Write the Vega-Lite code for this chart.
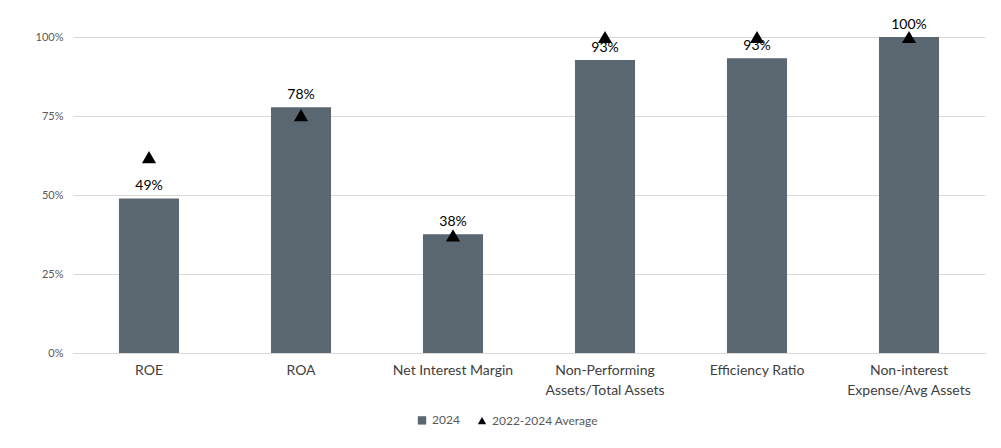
{
  "$schema": "https://vega.github.io/schema/vega-lite/v6.json",
  "autosize": {"type": "none"},
  "width": 912,
  "height": 316,
  "padding": {"left": 73, "top": 37, "right": 16, "bottom": 95},
  "background": "white",
  "config": {
    "font": "Lato",
    "view": {"stroke": null}
  },
  "data": {
    "values": [
      {"metric": "ROE", "series": "2024", "value": 0.489},
      {"metric": "ROA", "series": "2024", "value": 0.778},
      {"metric": "Net Interest Margin", "series": "2024", "value": 0.376},
      {"metric": "Non-Performing Assets/Total Assets", "series": "2024", "value": 0.927},
      {"metric": "Efficiency Ratio", "series": "2024", "value": 0.933},
      {"metric": "Non-interest Expense/Avg Assets", "series": "2024", "value": 1.0},
      {"metric": "ROE", "series": "2022-2024 Average", "value": 0.62},
      {"metric": "ROA", "series": "2022-2024 Average", "value": 0.753},
      {"metric": "Net Interest Margin", "series": "2022-2024 Average", "value": 0.372},
      {"metric": "Non-Performing Assets/Total Assets", "series": "2022-2024 Average", "value": 1.0},
      {"metric": "Efficiency Ratio", "series": "2022-2024 Average", "value": 1.0},
      {"metric": "Non-interest Expense/Avg Assets", "series": "2022-2024 Average", "value": 1.0}
    ]
  },
  "encoding": {
    "x": {
      "field": "metric",
      "type": "nominal",
      "sort": null,
      "title": null,
      "scale": {"paddingInner": 0.605, "paddingOuter": 0.3025},
      "axis": {
        "labelAngle": 0,
        "labelFontSize": 14,
        "labelColor": "#404040",
        "labelPadding": 10,
        "labelLineHeight": 20,
        "ticks": false,
        "domain": true,
        "domainColor": "#d9d9d9",
        "labelExpr": "datum.label == 'Non-Performing Assets/Total Assets' ? ['Non-Performing','Assets/Total Assets'] : datum.label == 'Non-interest Expense/Avg Assets' ? ['Non-interest','Expense/Avg Assets'] : datum.label"
      }
    },
    "y": {
      "field": "value",
      "type": "quantitative",
      "title": null,
      "scale": {"domain": [0, 1]},
      "axis": {
        "values": [0, 0.25, 0.5, 0.75, 1],
        "format": ".0%",
        "labelFontSize": 11,
        "labelColor": "#595959",
        "labelPadding": 10,
        "ticks": false,
        "domain": false,
        "gridColor": "#d9d9d9",
        "gridWidth": 1
      }
    },
    "color": {
      "field": "series",
      "type": "nominal",
      "scale": {"domain": ["2024", "2022-2024 Average"], "range": ["#5a6670", "#000000"]},
      "legend": {
        "title": null,
        "orient": "none",
        "direction": "horizontal",
        "legendX": 343,
        "legendY": 377,
        "labelFontSize": 12,
        "labelColor": "#595959",
        "symbolSize": 70,
        "symbolOpacity": 1,
        "columnPadding": 14,
        "labelOffset": 4
      }
    }
  },
  "layer": [
    {
      "transform": [{"filter": "datum.series == '2024'"}],
      "mark": {"type": "bar"}
    },
    {
      "transform": [{"filter": "datum.series == '2024'"}],
      "mark": {"type": "text", "baseline": "bottom", "dy": -5, "fontSize": 14, "color": "#000000"},
      "encoding": {
        "color": {"value": "#000000"},
        "text": {"field": "value", "type": "quantitative", "format": ".0%"}
      }
    },
    {
      "transform": [{"filter": "datum.series == '2022-2024 Average'"}],
      "mark": {"type": "point", "filled": true, "size": 200, "opacity": 1},
      "encoding": {
        "shape": {
          "field": "series",
          "type": "nominal",
          "scale": {"domain": ["2024", "2022-2024 Average"], "range": ["square", "triangle-up"]},
          "legend": {
            "title": null,
            "orient": "none",
            "direction": "horizontal",
            "legendX": 343,
            "legendY": 377,
            "labelFontSize": 12,
            "labelColor": "#595959",
            "symbolSize": 70,
            "symbolOpacity": 1,
            "columnPadding": 14,
            "labelOffset": 4
          }
        }
      }
    }
  ]
}
